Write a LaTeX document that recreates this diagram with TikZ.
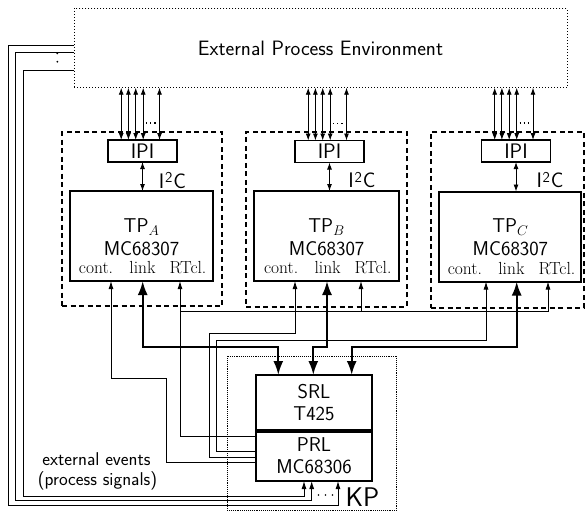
\documentclass[tikz,border=0pt]{standalone}
\usepackage{fix-cm}
\usepackage{fontspec}
\usetikzlibrary{arrows.meta}
\begin{document}
\begin{tikzpicture}[x=1pt,y=-1pt,
  every node/.style={inner sep=0pt,outer sep=0pt},
  txt/.style={font=\sffamily\fontsize{20}{22}\selectfont},
  ser/.style={font=\rmfamily\fontsize{17.5}{19}\selectfont},
  wire/.style={line width=0.9pt},
  linkw/.style={line width=2.2pt},
  thintip/.style={-{Latex[length=8pt,width=5pt]}},
  biptip/.style={{Latex[length=7pt,width=5pt]}-{Latex[length=7pt,width=5pt]}},
  bigtip/.style={{Latex[length=14pt,width=10pt]}-{Latex[length=14pt,width=10pt]}},
  tpbox/.style={draw,line width=2pt,minimum width=143pt,minimum height=90pt},
  dbox/.style={draw,line width=1.6pt,dash pattern=on 5pt off 3.5pt},
  ipibox/.style={draw,line width=1.2pt,minimum width=69pt,minimum height=22pt,font=\sffamily\fontsize{21}{22}\selectfont},
  lrbox/.style={draw,line width=2pt,minimum width=116pt,align=center,txt},
  i2c/.style={font=\sffamily\fontsize{21}{22}\selectfont},
  evt/.style={anchor=base,font=\sffamily\fontsize{18.5}{20}\selectfont},
]
\useasboundingbox (0,0) rectangle (586,512);

% environment
\node[draw,dotted,line width=1pt,minimum width=493pt,minimum height=79.4pt,font=\sffamily\fontsize{20.8}{22}\selectfont] (env) at (320.5,48) {External Process Environment};

% dashed TP enclosures
\node[dbox,minimum width=160pt,minimum height=174pt] (dA) at (142,219) {};
\node[dbox,minimum width=160.7pt,minimum height=174.7pt] (dB) at (326.35,219.35) {};
\node[dbox,minimum width=153.3pt,minimum height=176pt] (dC) at (507.35,220) {};

% IPI boxes
\node[ipibox] (ipiA) at (142.5,151) {IPI};
\node[ipibox] (ipiB) at (329.5,151.5) {IPI};
\node[ipibox] (ipiC) at (516,151) {IPI};

% TP boxes
\node[tpbox] (tpA) at (141.5,236) {};
\node[tpbox,minimum width=144.7pt] (tpB) at (326.6,236) {};
\node[tpbox,minimum width=142pt] (tpC) at (510.4,236.5) {};

\foreach \t/\s in {tpA/A,tpB/B,tpC/C}{
  \node[txt] (\t name) at ([yshift=9.3pt]\t.center) {TP$_\s$};
  \node[txt] (\t mc) at ([yshift=-12.3pt]\t.center) {MC68307};
  \node[ser,anchor=base] (\t cont) at ([xshift=-45.5pt,yshift=-37.5pt]\t.center) {cont.};
  \node[ser,anchor=base] (\t link) at ([xshift=1pt,yshift=-37.5pt]\t.center) {link};
  \node[ser,anchor=base] (\t rt) at ([xshift=46.5pt,yshift=-37.5pt]\t.center) {RTcl.};
}

% I2C links
\draw[wire,biptip] (ipiA.south) -- (ipiA.south |- tpA.north);
\draw[wire,biptip] (ipiB.south) -- (ipiB.south |- tpB.north);
\draw[wire,biptip] (ipiC.south) -- (ipiC.south |- tpC.north);
\node[i2c] (i2cA) at (172.5,180.5) {I\kern0.8pt\raisebox{0.62ex}{\fontsize{15}{15}\selectfont 2}\kern0.8pt C};
\node[i2c] (i2cB) at (362,180) {I\kern0.8pt\raisebox{0.62ex}{\fontsize{15}{15}\selectfont 2}\kern0.8pt C};
\node[i2c] (i2cC) at (550,180) {I\kern0.8pt\raisebox{0.62ex}{\fontsize{15}{15}\selectfont 2}\kern0.8pt C};

% process lines from environment to IPIs
\foreach \n in {ipiA,ipiB,ipiC}{
  \foreach \dx in {-21.3,-14.1,-6.8,0.7,17}{
    \path ([xshift=\dx pt]\n.north) coordinate (t);
    \draw[wire,biptip] (t) -- (t |- env.south);
  }
  \draw[line width=1.2pt,dash pattern=on 1.2pt off 3pt] ([xshift=3.5pt,yshift=17pt]\n.north) -- ([xshift=15pt,yshift=17pt]\n.north);
}

% KP enclosure
\node[draw,densely dotted,line width=0.9pt,minimum width=169.7pt,minimum height=154.5pt] (kpbox) at (311.85,433.25) {};
\node[font=\sffamily\fontsize{27}{30}\selectfont] (kp) at (362.5,497.5) {KP};

% SRL / PRL
\node[lrbox,minimum height=56pt] (srl) at (314,403) {SRL\\T425};
\node[lrbox,minimum height=50pt] (prl) at (314,456) {PRL\\MC68306};
\draw[line width=4.5pt] (srl.south west) -- (srl.south east);

% connector end points
\path (tpA.south) ++(-30.5,0) coordinate (Acont) (tpA.south) ++(1.2,0) coordinate (Alink) (tpA.south) ++(38.5,0) coordinate (Art);
\path (tpB.south) ++(-31.6,0) coordinate (Bcont) (tpB.south) ++(0.4,0) coordinate (Blink) (tpB.south) ++(34.4,0) coordinate (Brt);
\path (tpC.south) ++(-24.4,0) coordinate (Ccont) (tpC.south) ++(6.3,0) coordinate (Clink) (tpC.south) ++(37.6,0) coordinate (Crt);
\path (srl.north) ++(-35.7,0) coordinate (sA) (srl.north) ++(-0.7,0) coordinate (sB) (srl.north) ++(37.7,0) coordinate (sC);
\path (prl.south) ++(-10,0) coordinate (pI) (prl.south) ++(-2.3,0) coordinate (pM) (prl.south) ++(24,0) coordinate (pO);
\coordinate (rtbus) at (180,311.7);
\coordinate (ly) at (0,346.7);

% RTcl lines
\draw[wire,thintip] ([yshift=20pt]prl.west) -| (Art);
\draw[wire,thintip] (rtbus) -| (Crt);
\draw[wire,thintip] (rtbus -| Brt) -- (Brt);

% cont lines
\draw[wire,thintip] ([yshift=-6pt]prl.west) -| (166,378.3) -| (Acont);
\draw[wire,thintip] ([yshift=-1pt]prl.west) -| (209,333.7) -| (Bcont);
\draw[wire,thintip] ([yshift=5pt]prl.west) -| (216,340.5) -| (Ccont);

% link lines
\draw[linkw,bigtip] (Alink) |- (ly -| sA) -- (sA);
\draw[linkw,bigtip] (Blink) |- (ly -| sB) -- (sB);
\draw[linkw,bigtip] (Clink) |- (ly -| sC) -- (sC);

% external event lines
\draw[wire,thintip] ([yshift=3pt]env.west) -| (8.5,505.7) -| (pO);
\draw[wire,thintip] ([yshift=-4pt]env.west) -| (15.5,500.7) -| (pM);
\draw[wire,thintip] ([yshift=-22pt]env.west) -| (23,496) -| (pI);
\fill (57.3,53.3) circle (1pt);
\fill (57.3,61.7) circle (1pt);
\foreach \xx in {318.5,325.5,332.5} \fill (\xx,495) circle (0.9pt);

\node[evt] (ext1) at (96.5,465.5) {external events};
\node[evt] (ext2) at (97.5,485) {(process signals)};
\end{tikzpicture}
\end{document}
